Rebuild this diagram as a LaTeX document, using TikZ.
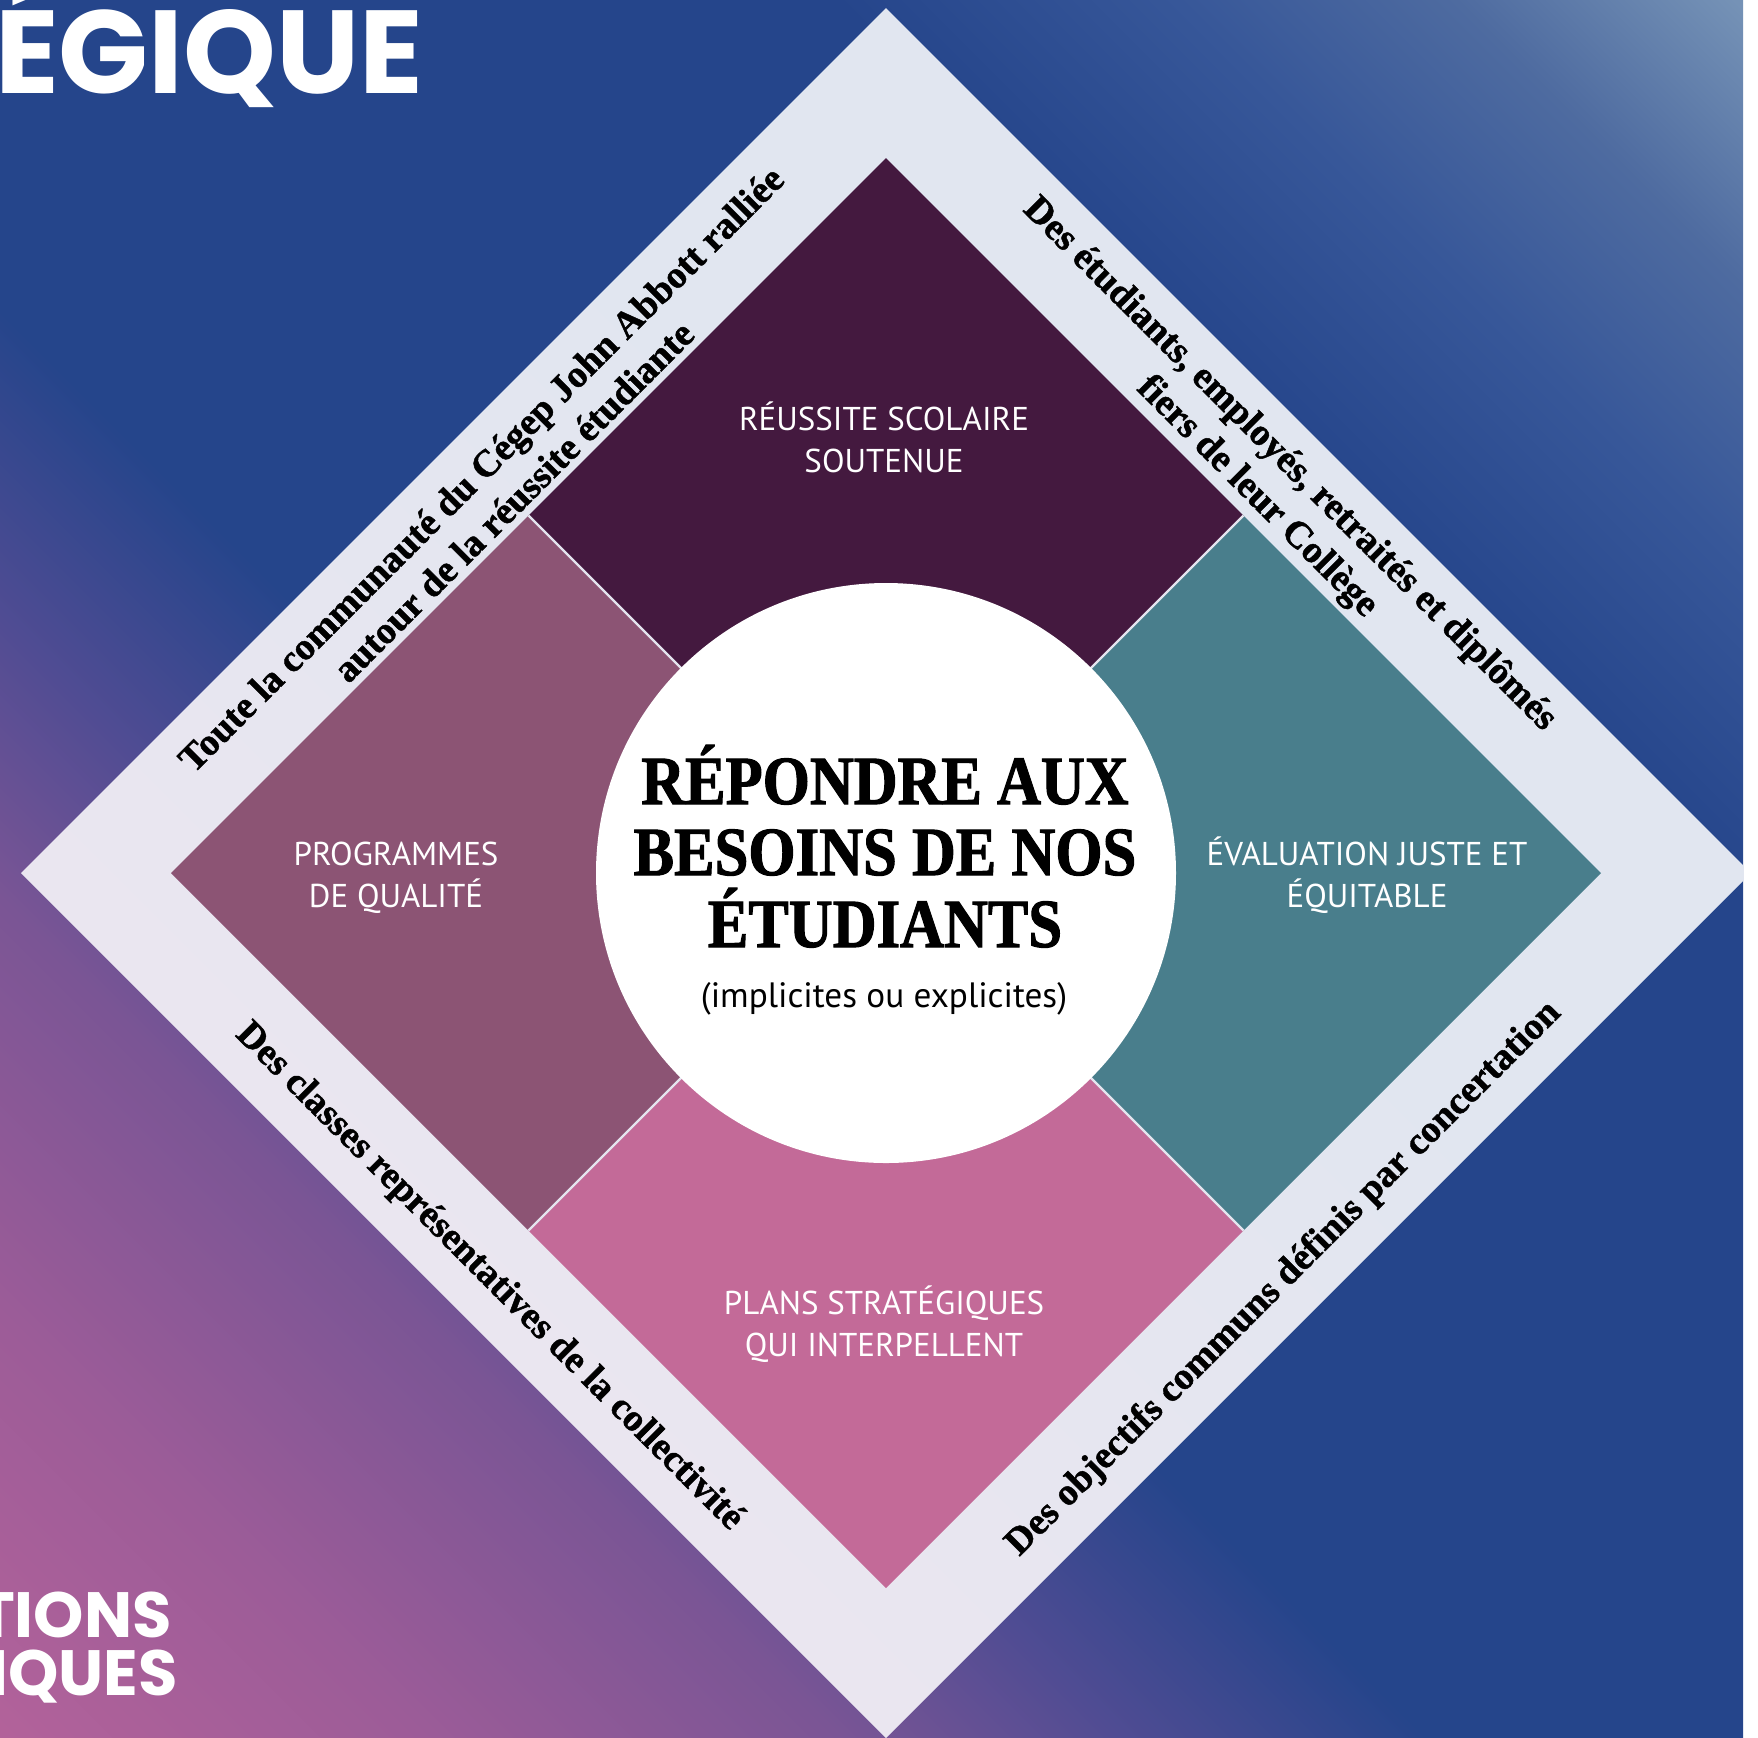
\documentclass[tikz,border=0pt]{standalone}
\usepackage{fontspec}
\usepackage{tikz}
\setmainfont{Liberation Serif}
\newfontfamily\bandfont[FakeBold=1.2]{Liberation Serif Bold}
\newfontfamily\titlefont[FakeStretch=0.88,FakeBold=1.5]{Liberation Serif Bold}
\newfontfamily\labelfont{PT Sans}
\newfontfamily\headfont{Poppins}

\definecolor{bgpink}{HTML}{B2629A}
\definecolor{bgmauve}{HTML}{9C5C98}
\definecolor{bgpurple}{HTML}{7A5595}
\definecolor{bgviolet}{HTML}{504C93}
\definecolor{bgblue}{HTML}{25458B}
\definecolor{bgsteel}{HTML}{375799}
\definecolor{bgmist}{HTML}{4E6BA0}
\definecolor{bglight}{HTML}{7592B6}
\definecolor{ringA}{HTML}{EEE6F0}
\definecolor{ringB}{HTML}{E1E6F0}
\definecolor{sqtop}{HTML}{44193F}
\definecolor{sqleft}{HTML}{8C5474}
\definecolor{sqright}{HTML}{497E8C}
\definecolor{sqbottom}{HTML}{C36A98}
\definecolor{sepline}{HTML}{E4E4EE}

\pgfdeclarehorizontalshading{bgshade}{100bp}{color(0bp)=(bgpink); color(14.6bp)=(bgpink);
  color(23.1bp)=(bgmauve); color(31.6bp)=(bgpurple); color(37.3bp)=(bgviolet); color(43.6bp)=(bgblue);
  color(67bp)=(bgblue); color(74bp)=(bgsteel); color(79.7bp)=(bgmist); color(85.4bp)=(bglight);
  color(100bp)=(bglight)}
\pgfdeclarehorizontalshading{ringshade}{100bp}{color(0bp)=(ringA); color(22bp)=(ringA);
  color(57bp)=(ringB); color(100bp)=(ringB)}

\begin{document}
\begin{tikzpicture}[x=0.5pt, y=-0.5pt,
    sqlabel/.style={align=center, text=white, inner sep=0, font=\labelfont\fontsize{16.5}{21}\selectfont},
    titleline/.style={anchor=base, inner sep=0, font=\titlefont\fontsize{34.5}{36}\selectfont},
    bandtext/.style={align=center, inner sep=0, font=\bandfont\fontsize{19}{23}\selectfont},
    headword/.style={text=white, inner sep=0, font=\headfont\bfseries\fontsize{59}{62}\selectfont}]
  \useasboundingbox (0,0) rectangle (1758,1737);
  \fill[white] (0,0) rectangle (1758,1737);
  \coordinate (C) at (886,873);
  \begin{scope}
    \clip (0,0) rectangle (1743,1737);
    % background
    \shade[shading=bgshade, shading angle=45] (0,0) rectangle (1743,1737);
    \node[headword, anchor=base east] (egique) at (424,93) {ÉGIQUE};
    \node[headword, anchor=base east, font=\headfont\bfseries\fontsize{32}{34}\selectfont] (tions) at (172,1637) {TIONS};
    \node[headword, anchor=base east, font=\headfont\bfseries\fontsize{32}{34}\selectfont] (iques) at (178,1695) {IQUES};
    % outer ring
    \shade[shading=ringshade, shading angle=45] (886,8) -- (1751,873) -- (886,1738) -- (21,873) -- cycle;
  \end{scope}
  % four squares
  \foreach \dx/\dy/\col in {0/-357.5/sqtop, 357.5/0/sqright, 0/357.5/sqbottom, -357.5/0/sqleft} {
    \fill[\col, shift={(886+\dx,873+\dy)}] (0,-357.5) -- (357.5,0) -- (0,357.5) -- (-357.5,0) -- cycle;
  }
  \coordinate (nw) at (528.5,515.5);
  \coordinate (ne) at (1243.5,515.5);
  \coordinate (se) at (1243.5,1230.5);
  \coordinate (sw) at (528.5,1230.5);
  \draw[sepline, line width=1.2pt] (nw) -- (se);
  \draw[sepline, line width=1.2pt] (ne) -- (sw);
  \node[circle, fill=white, minimum size=290pt, inner sep=0] (hub) at (C) {};

  \node[sqlabel] (reussite) at (884,437) {RÉUSSITE SCOLAIRE\\SOUTENUE};
  \node[sqlabel] (programmes) at (396,878) {PROGRAMMES\\DE QUALITÉ};
  \node[sqlabel] (evaluation) at (1367,875) {ÉVALUATION JUSTE ET\\ÉQUITABLE};
  \node[sqlabel] (plans) at (884,1324) {PLANS STRATÉGIQUES\\QUI INTERPELLENT};

  \node[titleline] (title1) at (885,804) {RÉPONDRE AUX};
  \node[titleline] (title2) at (885,875) {BESOINS DE NOS};
  \node[titleline] (title3) at (885,947) {ÉTUDIANTS};
  \node[anchor=base, inner sep=0, font=\labelfont\fontsize{17.6}{19}\selectfont] (implicites) at (884,1007) {(implicites ou explicites)};

  \node[bandtext, rotate=45] (communaute) at (497,485) {Toute la communauté du Cégep John Abbott ralliée\\autour de la réussite étudiante};
  \node[bandtext, rotate=-45] (fiers) at (1273,481) {Des étudiants, employés, retraités et diplômés\\fiers de leur Collège};
  \node[bandtext, rotate=-45] (classes) at (489,1277) {Des classes représentatives de la collectivité};
  \node[bandtext, rotate=45] (objectifs) at (1284,1279) {Des objectifs communs définis par concertation};
\end{tikzpicture}
\end{document}
